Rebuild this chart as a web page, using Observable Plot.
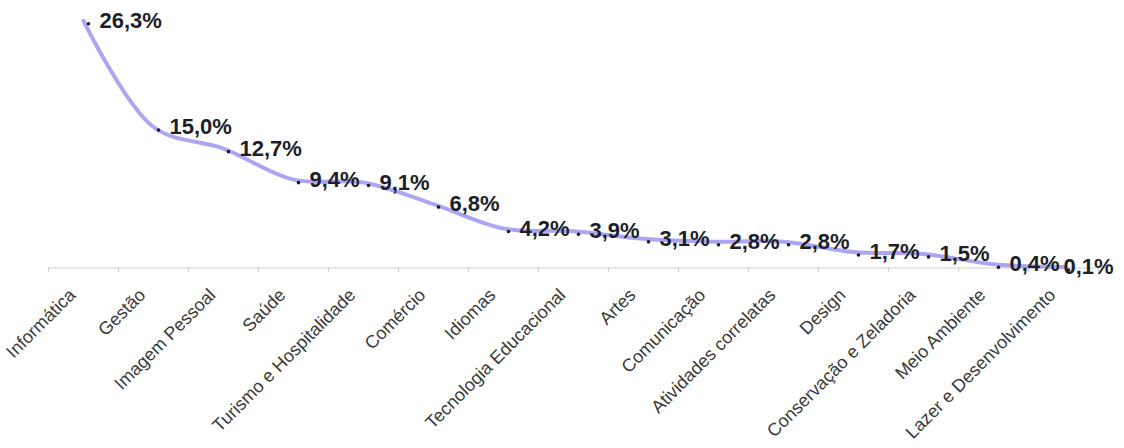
<!DOCTYPE html>
<html>
<head>
<meta charset="utf-8">
<script src="https://cdn.jsdelivr.net/npm/d3@7"></script>
<script src="https://cdn.jsdelivr.net/npm/@observablehq/plot@0.6"></script>
<style>
  html, body { margin: 0; padding: 0; background: #fff; }
  #chart svg { display: block; }
</style>
</head>
<body>
<div id="chart"></div>
<script>
const categories = [
  "Informática", "Gestão", "Imagem Pessoal", "Saúde", "Turismo e Hospitalidade",
  "Comércio", "Idiomas", "Tecnologia Educacional", "Artes", "Comunicação",
  "Atividades correlatas", "Design", "Conservação e Zeladoria", "Meio Ambiente",
  "Lazer e Desenvolvimento"
];
const values = [26.3, 15.0, 12.7, 9.4, 9.1, 6.8, 4.2, 3.9, 3.1, 2.8, 2.8, 1.7, 1.5, 0.4, 0.1];

const data = categories.map((c, i) => ({i, category: c, value: values[i]}));
const fmt = v => v.toFixed(1).replace(".", ",") + "%";
const boundaries = d3.range(categories.length + 1).map(k => k - 0.5);
const last = data.length - 1;

const chart = Plot.plot({
  width: 1124,
  height: 448,
  marginLeft: 48,
  marginRight: 26,
  marginTop: 0,
  marginBottom: 0,
  style: {fontFamily: "'Liberation Sans', Arial, Helvetica, sans-serif", background: "#fff"},
  x: {type: "linear", domain: [-0.5, categories.length - 0.5], axis: null},
  y: {domain: [0, 26.3], range: [267.5, 20.3], axis: null},
  marks: [
    Plot.ruleY([0], {stroke: "#cfcfcf", strokeWidth: 1}),
    Plot.axisX({
      ticks: boundaries,
      tickFormat: () => "",
      tickSize: 4,
      stroke: "#c8c8c8",
      label: null,
      anchor: "bottom",
      y: 0
    }),
    Plot.axisX({
      ticks: data.map(d => d.i),
      tickFormat: i => categories[i],
      tickSize: 0,
      tickRotate: -45,
      tickPadding: 0,
      dx: -11,
      dy: 24,
      fontSize: 18,
      fill: "#3a3a3a",
      label: null,
      anchor: "bottom",
      y: 0
    }),
    Plot.line(data, {x: "i", y: "value", curve: "catmull-rom", stroke: "#a8a0f0", strokeWidth: 4, strokeOpacity: 0.95}),
    Plot.dot(data, {x: "i", y: "value", r: 1.8, fill: "#1a1a2a", stroke: null, dx: 5, dy: 3}),
    Plot.text(data.filter(d => d.i !== last), {x: "i", y: "value", text: d => fmt(d.value), textAnchor: "start", dx: 16, fontSize: 22, fontWeight: "bold", fill: "#1e1e28"}),
    Plot.text(data.filter(d => d.i === last), {x: "i", y: "value", text: d => fmt(d.value), textAnchor: "start", dx: 0, fontSize: 22, fontWeight: "bold", fill: "#1e1e28"})
  ]
});
document.getElementById("chart").appendChild(chart);
</script>
</body>
</html>
